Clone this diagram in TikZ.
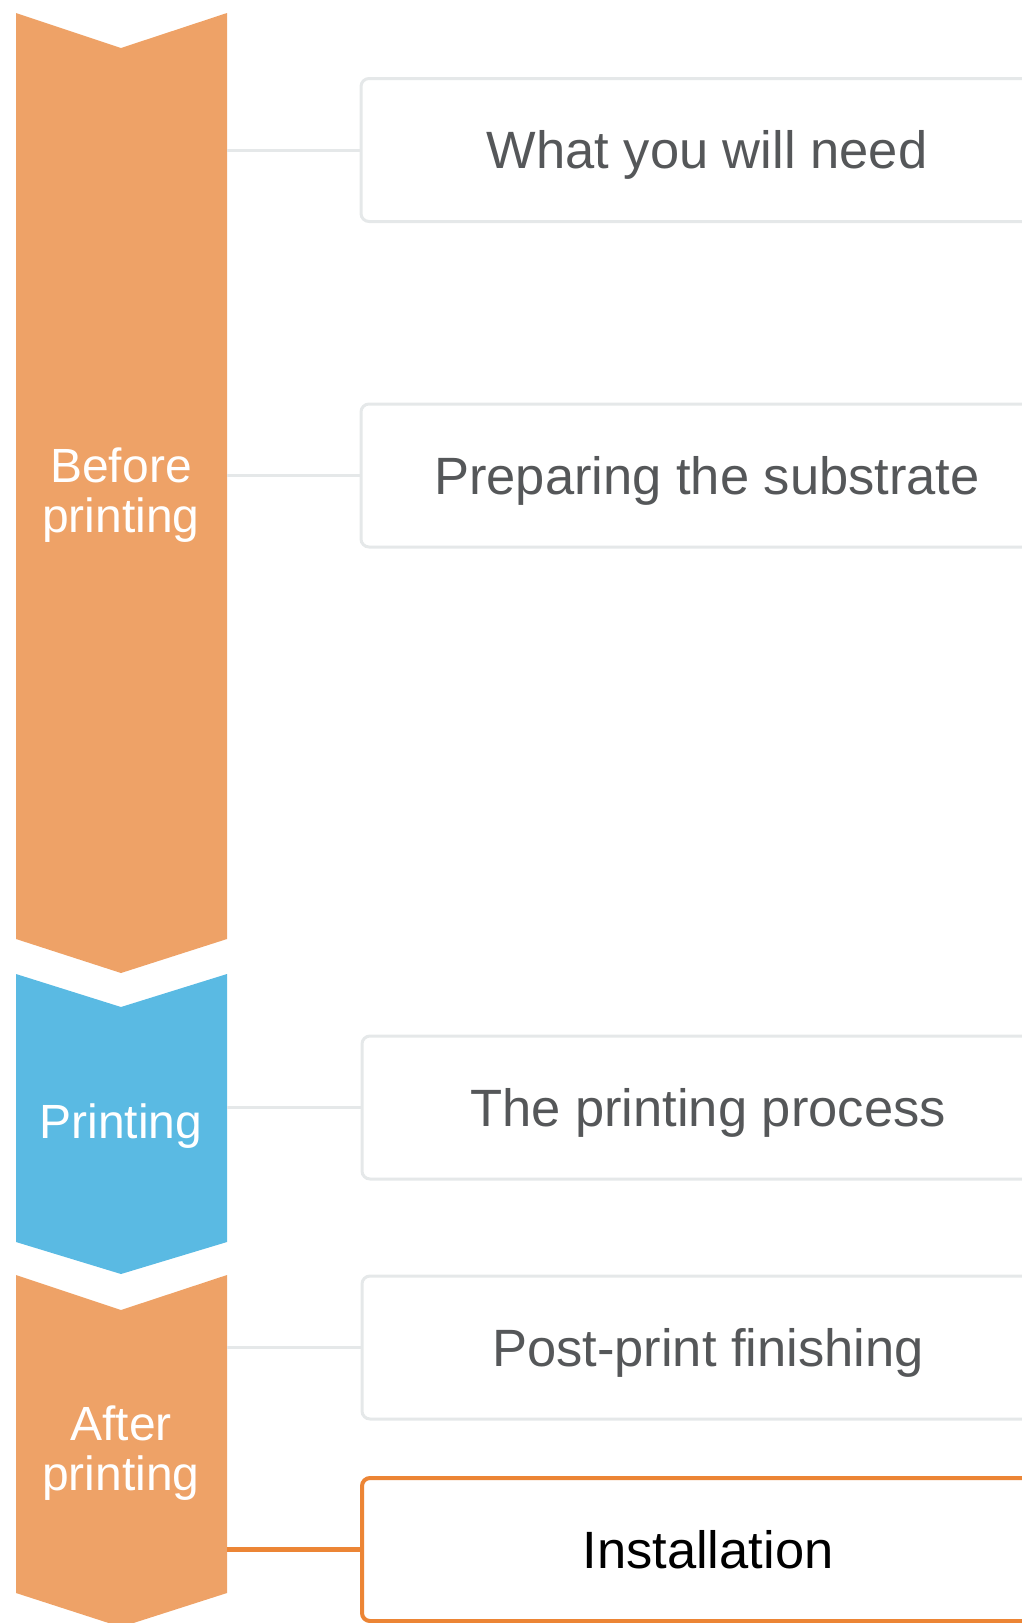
\documentclass[tikz,border=0pt]{standalone}
\usepackage{fontspec}
\setmainfont{Liberation Sans}
\definecolor{chevorange}{HTML}{EEA267}
\definecolor{chevblue}{HTML}{5ABAE3}
\definecolor{boxgray}{HTML}{E5E8E9}
\definecolor{txtgray}{HTML}{555759}
\definecolor{hiorange}{HTML}{EC8535}
\tikzset{
  stepbox/.style={draw=boxgray, line width=3pt, rounded corners=8pt, fill=white,
    minimum width=692pt, minimum height=143pt, inner sep=0pt,
    text=txtgray, font=\fontsize{52.5}{60}\selectfont, text height=37pt, text depth=0pt},
  hibox/.style={stepbox, draw=hiorange, line width=4pt, text=black},
  link/.style={draw=boxgray, line width=3pt},
  hilink/.style={draw=hiorange, line width=5.5pt},
  phase/.style={text=white, font=\fontsize{48}{50}\selectfont, align=center, inner sep=0pt},
}
\begin{document}
\begin{tikzpicture}[x=1pt,y=-1pt]
\useasboundingbox (0,0) rectangle (1022,1623);
\clip (0,0) rectangle (1022,1623);
% chevrons
\fill[chevorange] (16,13) -- (121,48) -- (227,13) -- (227,939) -- (121,973) -- (16,939) -- cycle;
\fill[chevblue] (16,974) -- (121,1007) -- (227,974) -- (227,1242) -- (121,1274) -- (16,1242) -- cycle;
\fill[chevorange] (16,1275) -- (121,1310) -- (227,1275) -- (227,1593) -- (121,1627) -- (16,1593) -- cycle;
\coordinate (edge) at (227,0);
% phase labels (base anchor = baseline of the last line)
\node[phase, anchor=base] (before) at (121,532) {Before\\printing};
\node[phase, anchor=base] (printing) at (121,1138) {Printing};
\node[phase, anchor=base] (after) at (121,1490) {After\\printing};
% boxes
\node[stepbox] (b1) at (707,150) {What you will need};
\node[stepbox] (b2) at (707,475.5) {Preparing the substrate};
\node[stepbox] (b3) at (708,1107.5) {The printing process};
\node[stepbox] (b4) at (708,1347.5) {Post-print finishing};
\node[hibox] (b5) at (708,1549.5) {Installation};
% connectors
\draw[link] (b1.west -| edge) -- (b1.west);
\draw[link] (b2.west -| edge) -- (b2.west);
\draw[link] (b3.west -| edge) -- (b3.west);
\draw[link] (b4.west -| edge) -- (b4.west);
\draw[hilink] (b5.west -| edge) -- (b5.west);
\end{tikzpicture}
\end{document}
